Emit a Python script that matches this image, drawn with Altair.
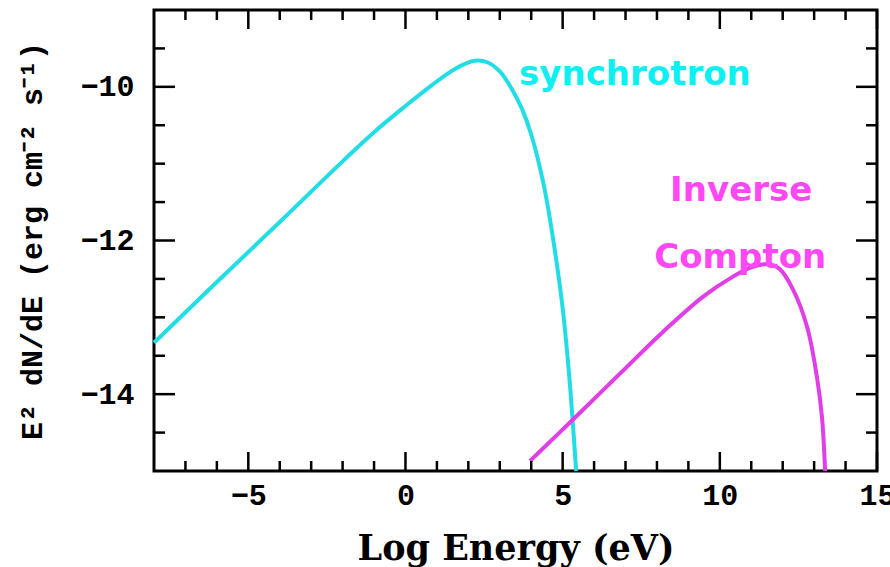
import altair as alt
import pandas as pd

# ---- data ----
sync_x = [-8, -6, -4, -2, -1, 0, 0.8, 1.6, 2.2, 2.6, 3.0, 3.4, 3.7, 4.0, 4.4, 4.7, 5.0, 5.2, 5.3, 5.43]
sync_y = [-13.33, -12.54, -11.76, -10.97, -10.59, -10.25, -9.99, -9.76, -9.66, -9.68, -9.8,
          -10.04, -10.28, -10.62, -11.28, -11.99, -12.88, -13.72, -14.24, -15.0]

ic_x = [3.96, 5.33, 6.83, 8.19, 9.47, 10.42, 11.0, 11.5, 11.9, 12.33, 12.78, 13.09, 13.25, 13.35]
ic_y = [-14.87, -14.33, -13.73, -13.19, -12.73, -12.47, -12.35, -12.31, -12.37, -12.64,
        -13.13, -13.78, -14.3, -15.0]

x_major = [-5, 0, 5, 10, 15]
x_minor = [-7, -6, -4, -3, -2, -1, 1, 2, 3, 4, 6, 7, 8, 9, 11, 12, 13, 14]
y_major = [-14, -12, -10]
y_minor = [-14.5, -13.5, -13, -12.5, -11.5, -11, -10.5, -9.5]

labels_text = ["synchrotron", "Inverse", "Compton"]
labels_x = [7.3, 10.68, 10.65]
labels_y = [-9.84, -11.35, -12.23]
labels_color = ["#0CF0F2", "#FF48F4", "#FF48F4"]

XMIN, XMAX, YMIN, YMAX = -8, 15, -15, -9
W, H = 723, 461
MAJ, MIN = 19, 10

sync = pd.DataFrame({"x": sync_x, "y": sync_y})
ic = pd.DataFrame({"x": ic_x, "y": ic_y})
lab = pd.DataFrame({"x": labels_x, "y": labels_y, "t": labels_text, "c": labels_color})

xs = alt.Scale(domain=[XMIN, XMAX], nice=False, zero=False)
ys = alt.Scale(domain=[YMIN, YMAX], nice=False, zero=False)

x_axis = alt.Axis(values=x_major, format="d", ticks=False, domain=False, grid=False,
                  labelFont="Liberation Mono", labelFontWeight="bold", labelFontSize=30,
                  labelColor="black", labelPadding=9, labelFlush=False,
                  title="Log Energy (eV)", titleFont="DejaVu Serif", titleFontSize=35,
                  titleFontWeight="bold", titleColor="black",
                  titleBaseline="middle", titleY=77)
y_axis = alt.Axis(values=y_major, format="d", ticks=False, domain=False, grid=False,
                  labelFont="Liberation Mono", labelFontWeight="bold", labelFontSize=30,
                  labelColor="black", labelPadding=20,
                  title="E² dN/dE (erg cm⁻² s⁻¹)", titleFont="Liberation Mono", titleFontSize=30,
                  titleFontWeight="bold", titleColor="black",
                  titleBaseline="middle", titleX=-122, titleY=H / 2, titleAngle=-90)

sync_line = alt.Chart(sync).mark_line(color="#22DDE6", strokeWidth=4, interpolate="catmull-rom").encode(
    x=alt.X("x:Q", scale=xs, axis=x_axis),
    y=alt.Y("y:Q", scale=ys, axis=y_axis),
)
ic_line = alt.Chart(ic).mark_line(color="#E03EE6", strokeWidth=4, interpolate="catmull-rom").encode(
    x=alt.X("x:Q", scale=xs),
    y=alt.Y("y:Q", scale=ys),
)

text = alt.Chart(lab).mark_text(font="DejaVu Sans", fontWeight="bold", fontSize=34, align="center",
                                baseline="middle").encode(
    x=alt.X("x:Q", scale=xs),
    y=alt.Y("y:Q", scale=ys),
    text="t:N",
    color=alt.Color("c:N", scale=None),
)

def xticks(vals, length):
    d = pd.DataFrame({"v": vals})
    bottom = alt.Chart(d).mark_rule(color="black", strokeWidth=2.5).encode(
        x=alt.X("v:Q", scale=xs), y=alt.value(H), y2=alt.value(H - length))
    top = alt.Chart(d).mark_rule(color="black", strokeWidth=2.5).encode(
        x=alt.X("v:Q", scale=xs), y=alt.value(0), y2=alt.value(length))
    return [bottom, top]

def yticks(vals, length):
    d = pd.DataFrame({"v": vals})
    left = alt.Chart(d).mark_rule(color="black", strokeWidth=2.5).encode(
        y=alt.Y("v:Q", scale=ys), x=alt.value(0), x2=alt.value(length))
    right = alt.Chart(d).mark_rule(color="black", strokeWidth=2.5).encode(
        y=alt.Y("v:Q", scale=ys), x=alt.value(W), x2=alt.value(W - length))
    return [left, right]

layers = [sync_line, ic_line, text] + xticks(x_major, MAJ) + xticks(x_minor, MIN) \
    + yticks(y_major, MAJ + 2) + yticks(y_minor, MIN + 1)

chart = alt.layer(*layers).properties(
    width=W, height=H,
    autosize=alt.AutoSizeParams(type="none"),
    padding={"left": 154, "top": 10, "right": 13, "bottom": 96},
    background="white",
).configure_view(stroke="black", strokeWidth=3)

chart.save("out.html", embed_options={"renderer": "svg", "actions": False})
